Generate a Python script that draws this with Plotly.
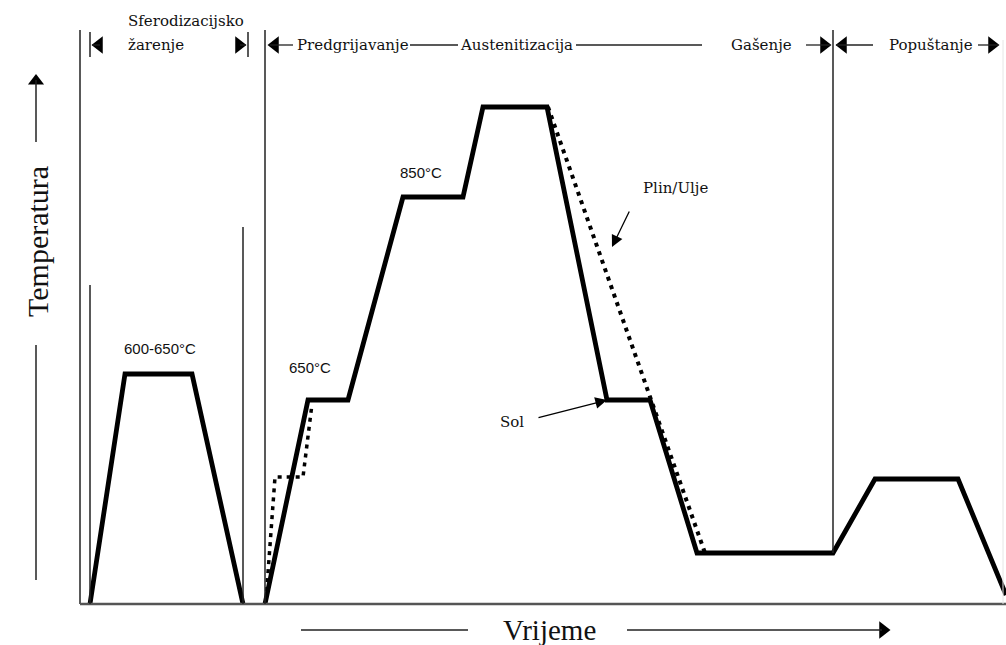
import plotly.graph_objects as go

# ---- data (schematic units: time t, temperature T) ----
sphero_time = [10, 45, 112, 163]
sphero_temp = [0, 230, 230, 0]

main_time = [185, 228, 268, 323, 383, 403, 467, 527, 570, 617, 753, 795, 878, 926]
main_temp = [0, 204, 204, 407, 407, 497, 497, 204, 204, 51, 51, 125, 125, 9]

gas_oil_time = [468, 625]
gas_oil_temp = [497, 51]

preheat_alt_time = [186, 195, 223, 232]
preheat_alt_temp = [4, 127, 127, 200]

phase_labels = ["Sferodizacijsko", "žarenje", "Predgrijavanje", "Austenitizacija", "Gašenje", "Popuštanje"]
temp_labels = ["600-650°C", "650°C", "850°C"]
medium_labels = ["Plin/Ulje", "Sol"]
axis_titles = ["Vrijeme", "Temperatura"]

# ---- helpers: pixel-like layout positions -> data coords ----
def X(px):
    return px - 80

def Y(py):
    return 604 - py

fig = go.Figure()

# process curves
fig.add_trace(go.Scatter(x=sphero_time, y=sphero_temp, mode="lines",
                         line=dict(color="black", width=4.8), hoverinfo="skip"))
fig.add_trace(go.Scatter(x=main_time, y=main_temp, mode="lines",
                         line=dict(color="black", width=4.8), hoverinfo="skip"))
fig.add_trace(go.Scatter(x=gas_oil_time, y=gas_oil_temp, mode="lines",
                         line=dict(color="black", width=4, dash="4px,5px"), hoverinfo="skip"))
fig.add_trace(go.Scatter(x=preheat_alt_time, y=preheat_alt_temp, mode="lines",
                         line=dict(color="black", width=3.5, dash="4px,5px"), hoverinfo="skip"))

shapes = []
def seg(x0, y0, x1, y1, w=1.5, c="#222"):
    shapes.append(dict(type="line", xref="x", yref="y", x0=X(x0), y0=Y(y0), x1=X(x1), y1=Y(y1),
                       line=dict(color=c, width=w)))

# axes frame
seg(80, 30, 80, 604, 1.5)
seg(80, 604, 1006, 604, 2.5, "#555")
# phase separators
seg(90, 32, 90, 57)
seg(248, 32, 248, 57)
seg(90, 285, 90, 604)
seg(243, 227, 243, 604)
seg(265, 30, 265, 604)
seg(833, 30, 833, 553)
seg(1003, 40, 1003, 604, 1, "#e6e6e6")
# header dimension lines
hy = 45
for a, b in [(92, 100), (240, 246), (270, 293), (410, 458), (576, 702), (806, 830), (836, 873), (978, 998)]:
    seg(a, hy, b, hy, 1.3, "#222")
# axis arrows
seg(36, 80, 36, 142, 1.5)
seg(36, 345, 36, 580, 1.5)
seg(301, 630, 468, 630, 1.5)
seg(627, 630, 882, 630, 1.5)

# triangles
tri_left_x = [X(99), X(275), X(843)]
tri_right_x = [X(239), X(824), X(992)]
fig.add_trace(go.Scatter(x=tri_left_x, y=[Y(hy)] * 3, mode="markers",
                         marker=dict(symbol="triangle-left", size=15, color="black"), hoverinfo="skip"))
fig.add_trace(go.Scatter(x=tri_right_x, y=[Y(hy)] * 3, mode="markers",
                         marker=dict(symbol="triangle-right", size=15, color="black"), hoverinfo="skip"))
fig.add_trace(go.Scatter(x=[X(36)], y=[Y(81)], mode="markers",
                         marker=dict(symbol="triangle-up", size=14, color="black"), hoverinfo="skip"))
fig.add_trace(go.Scatter(x=[X(883)], y=[Y(630)], mode="markers",
                         marker=dict(symbol="triangle-right", size=15, color="black"), hoverinfo="skip"))

serif = "DejaVu Serif"
ann = []
def txt(s, px, py, size=15, fam=serif, xanchor="center", angle=0):
    ann.append(dict(text=s, x=X(px), y=Y(py), xref="x", yref="y", showarrow=False,
                    xanchor=xanchor, yanchor="middle", textangle=angle,
                    font=dict(family=fam, size=size, color="#111")))

txt(phase_labels[0], 126, 21, xanchor="left")
txt(phase_labels[1], 126, 45, xanchor="left")
txt(phase_labels[2], 353, hy)
txt(phase_labels[3], 516, hy)
txt(phase_labels[4], 761, hy)
txt(phase_labels[5], 931, hy)

sans = "Liberation Sans"
txt(temp_labels[0], 160, 348, 15, sans)
txt(temp_labels[1], 310, 367, 15, sans)
txt(temp_labels[2], 421, 172, 15, sans)

txt(medium_labels[0], 675, 188, 15)
txt(medium_labels[1], 512, 422, 15)

txt(axis_titles[0], 549, 630, 29, "Liberation Serif")
txt(axis_titles[1], 37, 242, 30, "Liberation Serif", angle=-90)

# pointer arrows
ann.append(dict(text="", x=X(612), y=Y(247), ax=X(630), ay=Y(210), xref="x", yref="y",
                axref="x", ayref="y", showarrow=True, arrowhead=2, arrowsize=1.8,
                arrowwidth=1.3, arrowcolor="black"))
ann.append(dict(text="", x=X(607), y=Y(400), ax=X(537), ay=Y(418), xref="x", yref="y",
                axref="x", ayref="y", showarrow=True, arrowhead=2, arrowsize=1.8,
                arrowwidth=1.3, arrowcolor="black"))

fig.update_layout(
    width=1006, height=645,
    margin=dict(l=0, r=0, t=0, b=0),
    paper_bgcolor="white", plot_bgcolor="white",
    showlegend=False,
    shapes=shapes, annotations=ann,
    xaxis=dict(range=[-80, 926], visible=False, fixedrange=True),
    yaxis=dict(range=[-41, 604], visible=False, fixedrange=True),
)

fig.write_html("out.html", config={"displayModeBar": False},
               post_script="document.body.style.margin='0';document.body.style.overflow='hidden';")
